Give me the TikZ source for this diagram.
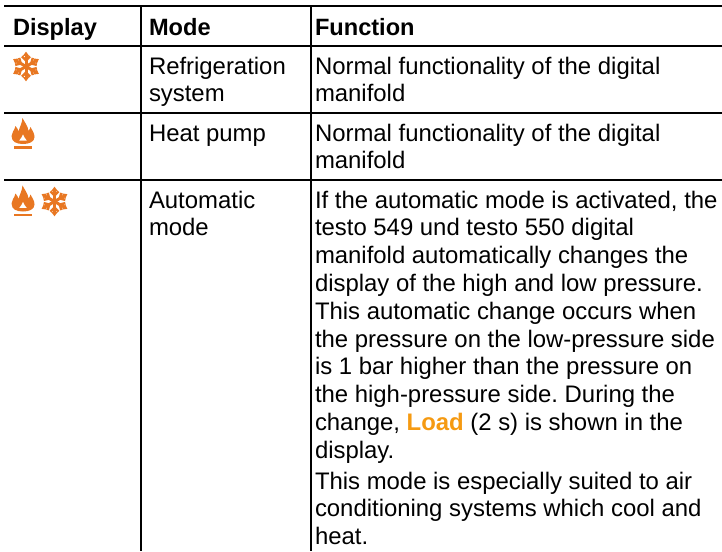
\documentclass[tikz,border=0pt]{standalone}
\usepackage{fontspec}
\setmainfont{Liberation Sans}
\definecolor{iconor}{HTML}{E87722}
\definecolor{loador}{HTML}{F59A12}
\newcommand{\fst}{\rule{0pt}{18pt}}
\tikzset{
  rule/.style={line width=2pt,black},
  cell/.style={anchor=north west,inner sep=0pt,outer sep=0pt,align=left,font=\fontsize{23.9}{27.8}\selectfont\frenchspacing,text=black},
  headcell/.style={cell,font=\fontsize{23.6}{27.8}\selectfont\bfseries},
  snowicon/.pic={
    \foreach \a in {30,90,150,210,270,330}{
      \begin{scope}[rotate=\a]
        \draw[iconor,line width=3pt] (0,0) -- (11.5,0);
        \fill[iconor] (14.8,0) -- (10.5,3.2) -- (10.5,-3.2) -- cycle;
        \draw[iconor,line width=2.4pt] (6,0) -- (10.2,4);
        \draw[iconor,line width=2.4pt] (6,0) -- (10.2,-4);
      \end{scope}}
  },
  flameicon/.pic={
    \fill[iconor,even odd rule] (0,-2) .. controls (-6,-2) and (-11.5,-4) .. (-11.5,-10)
      .. controls (-11.5,-14) and (-8.5,-15) .. (-7.5,-20)
      .. controls (-5.5,-18) and (-5,-16) .. (-4.5,-14.5)
      .. controls (-3.5,-19) and (-1,-22) .. (-0.5,-28)
      .. controls (2,-23) and (5,-20) .. (5.5,-15)
      .. controls (6.5,-16) and (7,-17.5) .. (7.5,-19)
      .. controls (9.5,-15) and (11.5,-13) .. (11.5,-9)
      .. controls (11.5,-4) and (6,-2) .. (0,-2) -- cycle
      (0,-12) .. controls (-0.5,-9.5) and (-2.5,-7.5) .. (-4,-5.5) -- (4,-5.5) .. controls (2.5,-7.5) and (0.5,-9.5) .. (0,-12) -- cycle;
    \fill[iconor] (-9,0.3) rectangle (9,2.8);
  }
}
\begin{document}
\begin{tikzpicture}[x=1pt,y=-1pt]
\useasboundingbox (0,0) rectangle (722,551);
\coordinate (tl) at (4,5.7);
\coordinate (tr) at (722,5.7);
\coordinate (h1l) at (4,45.7);
\coordinate (h1r) at (722,45.7);
\coordinate (h2l) at (4,112.5);
\coordinate (h2r) at (722,112.5);
\coordinate (h3l) at (4,179.7);
\coordinate (h3r) at (722,179.7);
\coordinate (v1t) at (141,5.7);
\coordinate (v1b) at (141,551);
\coordinate (v2t) at (311,5.7);
\coordinate (v2b) at (311,551);
\draw[rule] (tl) -- (tr);
\draw[rule] (h1l) -- (h1r);
\draw[rule] (h2l) -- (h2r);
\draw[rule] (h3l) -- (h3r);
\draw[rule] (v1t) -- (v1b);
\draw[rule] (v2t) -- (v2b);

\node[headcell] (hd) at (13,17.5) {\fst Display};
\node[headcell] (hm) at (149,17.5) {\fst Mode};
\node[headcell] (hf) at (315,17.5) {\fst Function};

\pic at (26,66.5) {snowicon};
\pic at (23,146) {flameicon};
\pic at (23,213.5) {flameicon};
\pic at (54.5,201.5) {snowicon};

\node[cell] (m1) at (149,56) {\fst Refrigeration\\system};
\node[cell] (f1) at (315,56) {\fst Normal functionality of the digital\\manifold};
\node[cell] (m2) at (149,123) {\fst Heat pump};
\node[cell] (f2) at (315,123) {\fst Normal functionality of the digital\\manifold};
\node[cell] (m3) at (149,190) {\fst Automatic\\mode};
\node[cell] (f3) at (315,190) {\fst If the automatic mode is activated, the\\testo 549 und testo 550 digital\\manifold automatically changes the\\display of the high and low pressure.\\This automatic change occurs when\\the pressure on the low-pressure side\\is 1 bar higher than the pressure on\\the high-pressure side. During the\\change, {\bfseries\color{loador}Load} (2 s) is shown in the\\display.};
\node[cell] (f4) at (315,471) {\fst This mode is especially suited to air\\conditioning systems which cool and\\heat.};
\end{tikzpicture}
\end{document}
